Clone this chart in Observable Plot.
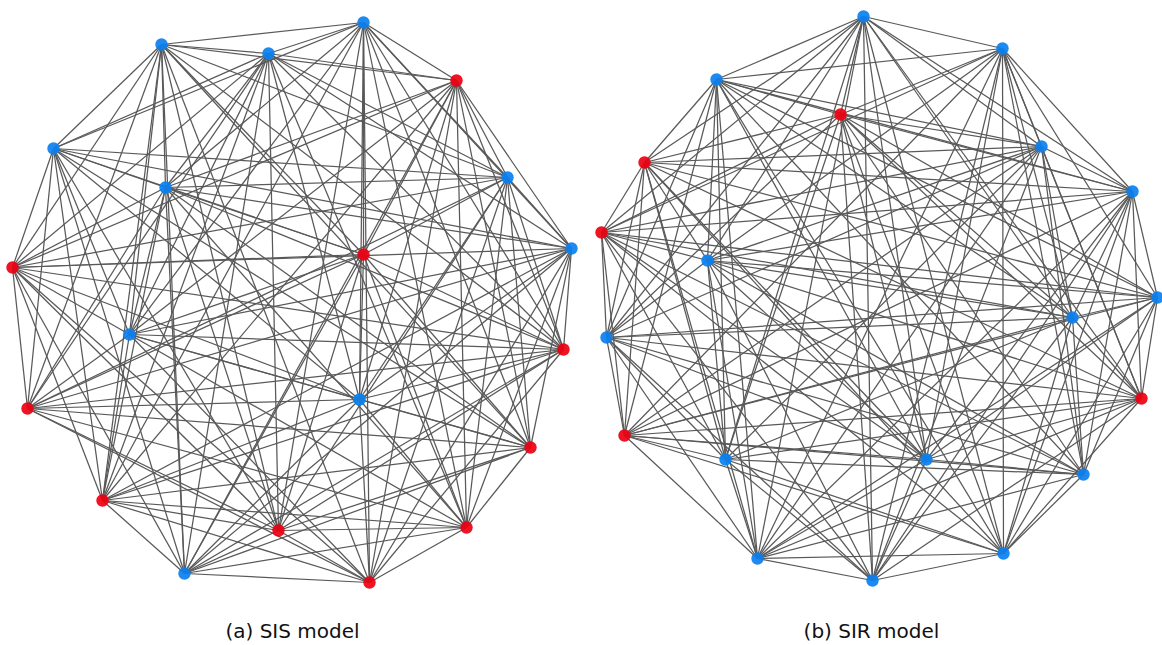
<!DOCTYPE html>
<html>
<head>
<meta charset="utf-8">
<script src="https://cdn.jsdelivr.net/npm/d3@7"></script>
<script src="https://cdn.jsdelivr.net/npm/@observablehq/plot@0.6"></script>
<style>
  html, body { margin: 0; padding: 0; background: #fff; }
</style>
</head>
<body>
<div id="chart"></div>
<script>
// Panel (a) SIS model: node layout positions and states
const sisX = [363, 161, 268, 456, 53, 507, 165, 571, 12, 363, 129, 563, 27, 359, 530, 102, 278, 466, 184, 369];
const sisY = [22, 44, 53, 80, 148, 177, 187, 248, 267, 254, 334, 349, 408, 399, 447, 500, 530, 527, 573, 582];
const sisState = ["S","S","S","I","S","S","S","S","I","I","S","I","I","S","I","I","I","I","S","I"];
// edges absent from the (near complete) contact graph
const sisMissing = [[0,8],[0,12],[0,18],[1,7],[1,13],[1,17],[2,9],[2,14],[2,19],[3,4],[3,12],[3,16],
  [4,11],[4,17],[4,19],[5,10],[5,15],[5,18],[6,13],[6,19],[7,9],[7,16],[8,14],[8,17],[9,15],[9,19],
  [10,16],[10,18],[11,14],[11,17],[12,15],[12,18],[13,16],[14,19]];

// Panel (b) SIR model
const sirX = [863, 1002, 716, 840, 1041, 644, 1132, 601, 707, 1157, 1072, 606, 1141, 624, 725, 926, 1083, 757, 1003, 872];
const sirY = [16, 48, 79, 114, 146, 162, 191, 232, 260, 297, 317, 337, 398, 435, 459, 459, 474, 558, 553, 580];
const sirState = ["S","S","S","I","S","I","S","I","S","S","S","S","I","I","S","S","S","S","S","S"];
const sirMissing = [[0,9],[0,13],[0,16],[1,5],[1,11],[1,14],[2,7],[2,12],[2,19],[3,8],[3,13],[3,17],
  [4,9],[4,15],[4,18],[5,10],[5,16],[5,19],[6,11],[6,14],[7,12],[7,17],[8,13],[8,18],[9,14],[9,19],
  [10,15],[10,17],[11,18],[12,16],[13,19],[14,15],[15,18],[16,19]];

const captions = ["(a) SIS model", "(b) SIR model"];
const captionX = [292, 871];
const captionY = [631, 631];

function buildNodes(xs, ys, st, panel) {
  return xs.map((x, i) => ({x, y: ys[i], state: st[i], panel}));
}
function buildEdges(nodes, missing) {
  const miss = new Set(missing.map(([a, b]) => a < b ? a + "-" + b : b + "-" + a));
  const out = [];
  for (let i = 0; i < nodes.length; i++)
    for (let j = i + 1; j < nodes.length; j++)
      if (!miss.has(i + "-" + j))
        out.push({x1: nodes[i].x, y1: nodes[i].y, x2: nodes[j].x, y2: nodes[j].y});
  return out;
}

const sisNodes = buildNodes(sisX, sisY, sisState, "a");
const sirNodes = buildNodes(sirX, sirY, sirState, "b");
const edges = buildEdges(sisNodes, sisMissing).concat(buildEdges(sirNodes, sirMissing));
const nodes = sisNodes.concat(sirNodes);
const caps = captions.map((t, i) => ({t, x: captionX[i], y: captionY[i]}));

const chart = Plot.plot({
  width: 1162,
  height: 645,
  margin: 0,
  x: {domain: [0, 1162], range: [0, 1162], axis: null},
  y: {domain: [0, 645], range: [0, 645], axis: null},
  color: {domain: ["S", "I"], range: ["#0a80f0", "#ee0010"]},
  style: {background: "#fff"},
  marks: [
    Plot.link(edges, {x1: "x1", y1: "y1", x2: "x2", y2: "y2", stroke: "#595959", strokeWidth: 1.25}),
    Plot.dot(nodes, {x: "x", y: "y", r: 6.2, fill: "state", fillOpacity: 0.92, stroke: "none"}),
    Plot.text(caps, {x: "x", y: "y", text: "t", fontSize: 20, fill: "#111", fontFamily: "'DejaVu Sans', sans-serif"})
  ]
});
document.getElementById("chart").appendChild(chart);
</script>
</body>
</html>
